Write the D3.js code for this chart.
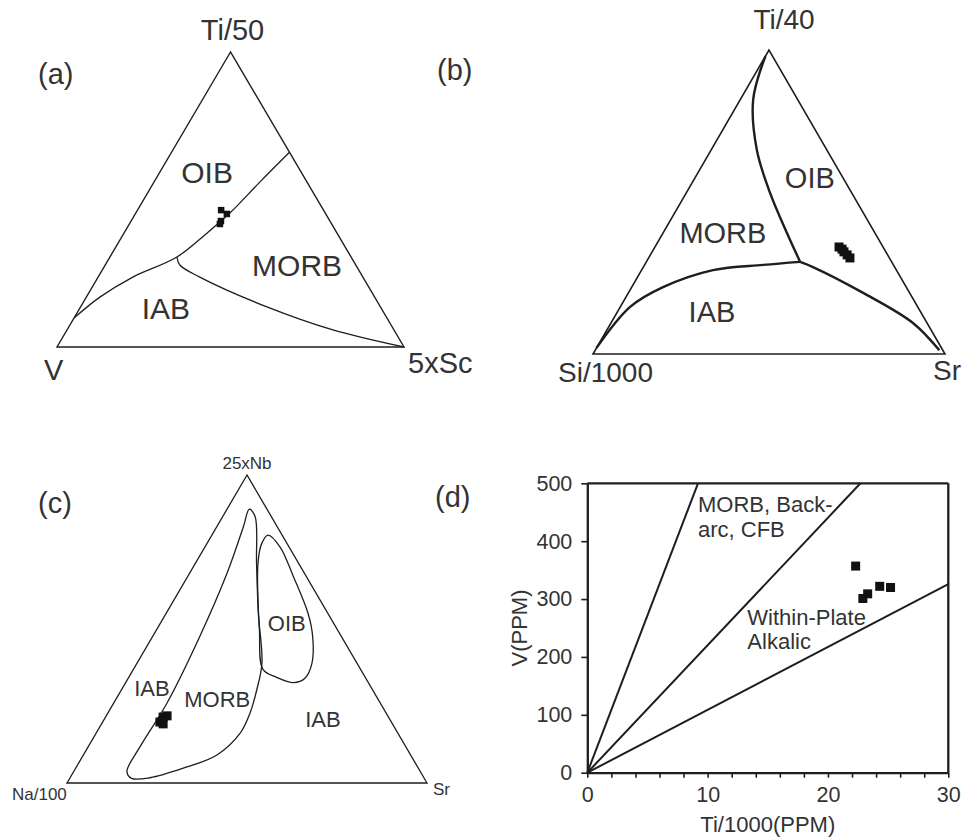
<!DOCTYPE html>
<html><head><meta charset="utf-8">
<script src="https://cdn.jsdelivr.net/npm/d3@7"></script>
<style>
body{margin:0;background:#fff}
svg{display:block}
text{font-family:"Liberation Sans",Arial,Helvetica,sans-serif;fill:#333}
</style>
</head><body>
<svg id="chart" width="966" height="839"></svg>
<script>
// ================= DATA =================
// Ternary points are [top fraction, right fraction] (left = 1 - top - right)

// Panel (a): Ti/50 (top) – V (left) – 5xSc (right)
const aCorners = ["Ti/50", "V", "5xSc"];
const aBoundaryOIB = [[0.66,0.34],[0.559,0.305],[0.454,0.271],[0.386,0.239],[0.305,0.193],[0.237,0.100],[0.169,0.039],[0.098,0.0]];
const aBoundaryIAB = [[0.305,0.193],[0.278,0.215],[0.237,0.293],[0.136,0.537],[0.058,0.766],[0.0,1.0]];
const aSamples = [[0.464,0.241],[0.451,0.264],[0.427,0.259],[0.417,0.261]];
const aRegionNames = ["OIB","MORB","IAB"];
const aRegionAt = [[0.593,0.136],[0.278,0.553],[0.132,0.248]];

// Panel (b): Ti/40 (top) – Si/1000 (left) – Sr (right)
const bCorners = ["Ti/40", "Si/1000", "Sr"];
const bBoundaryOIB = [[0.98,0.0],[0.836,0.037],[0.671,0.130],[0.530,0.238],[0.398,0.352],[0.303,0.437]];
const bBoundaryMORB = [[0.303,0.437],[0.293,0.337],[0.276,0.203],[0.220,0.089],[0.155,0.028],[0.02,0.0]];
const bBoundaryIAB = [[0.303,0.437],[0.286,0.482],[0.201,0.667],[0.102,0.858],[0.012,0.978]];
const bSamples = [[0.352,0.523],[0.345,0.535],[0.336,0.545],[0.326,0.559],[0.316,0.572]];
const bRegionNames = ["OIB","MORB","IAB"];
const bRegionAt = [[0.582,0.325],[0.398,0.170],[0.138,0.269]];

// Panel (c): 25xNb (top) – Na/100 (left) – Sr (right)
const cCorners = ["25xNb", "Na/100", "Sr"];
const cFieldMORB = [[0.889,0.062],[0.865,0.090],[0.713,0.170],[0.551,0.256],[0.389,0.347],[0.302,0.376],[0.226,0.395],[0.161,0.400],[0.091,0.371],[0.048,0.299],[0.017,0.222],[0.015,0.172],[0.037,0.148],[0.118,0.144],[0.259,0.148],[0.475,0.131],[0.681,0.104],[0.832,0.074]];
const cFieldOIB = [[0.805,0.156],[0.767,0.208],[0.670,0.294],[0.551,0.394],[0.475,0.445],[0.389,0.486],[0.340,0.491],[0.326,0.466],[0.343,0.411],[0.369,0.360],[0.497,0.286],[0.713,0.174],[0.778,0.152]];
const cSamples = [[0.214,0.160],[0.218,0.169],[0.198,0.159],[0.192,0.171]];
const cRegionNames = ["OIB","MORB","IAB","IAB"];
const cRegionAt = [[0.519,0.351],[0.273,0.281],[0.308,0.082],[0.208,0.607]];

// Panel (d): Ti/1000 (ppm) vs V (ppm)
const dXDomain = [0, 30];
const dYDomain = [0, 500];
const dXTicks = [0,2,4,6,8,10,12,14,16,18,20,22,24,26,28,30];
const dXTickLabels = [0,10,20,30];
const dYTicks = [0,100,200,300,400,500];
const dLineEnds = [[9.2,500],[22.7,500],[30,326]];
const dSamples = [[22.3,357],[22.9,301],[23.3,309],[24.3,322],[25.2,320]];
const dXTitle = "Ti/1000(PPM)";
const dYTitle = "V(PPM)";
const dLabelMORB = ["MORB, Back-","arc, CFB"];
const dLabelWPA = ["Within-Plate","Alkalic"];
const dLabelMORBAt = [[9.2,451],[9.2,408]];
const dLabelWPAAt = [[13.3,256],[13.3,213]];

const panelLetters = ["(a)","(b)","(c)","(d)"];

// ================= DRAW =================
const svg = d3.select("#chart");
const INK = "#1e1e1e";

function ternaryProj(f) {
  const sx = d3.scaleLinear().domain([0,1]).range([f.x0, f.x1]);
  const sy = d3.scaleLinear().domain([0,1]).range([f.yb, f.yt]);
  return d => [sx(d[1] + d[0]/2), sy(d[0])];
}

function drawTernary(g, f, opts) {
  const p = ternaryProj(f);
  const line = d3.line().x(d => p(d)[0]).y(d => p(d)[1]);
  g.append("path")
    .attr("d", line([[1,0],[0,0],[0,1]]) + "Z")
    .attr("fill","none").attr("stroke",INK).attr("stroke-width",opts.frameW)
    .attr("stroke-linejoin","miter");
  opts.curves.forEach(c => {
    g.append("path")
      .attr("d", d3.line().x(d=>p(d)[0]).y(d=>p(d)[1]).curve(d3.curveCatmullRom.alpha(0.5))(c))
      .attr("fill","none").attr("stroke",INK).attr("stroke-width",opts.lineW);
  });
  (opts.closed||[]).forEach(c => {
    g.append("path")
      .attr("d", d3.line().x(d=>p(d)[0]).y(d=>p(d)[1]).curve(d3.curveCatmullRomClosed.alpha(0.5))(c))
      .attr("fill","none").attr("stroke",INK).attr("stroke-width",opts.lineW);
  });
  g.selectAll("rect.s").data(opts.samples).join("rect")
    .attr("x", d => p(d)[0]-opts.ms/2).attr("y", d => p(d)[1]-opts.ms/2)
    .attr("width", opts.ms).attr("height", opts.ms).attr("fill","#111");
  opts.regions.forEach((name,i) => {
    const q = p(opts.regionAt[i]);
    g.append("text").attr("x",q[0]).attr("y",q[1]).attr("dy","0.36em")
      .attr("text-anchor","middle").attr("font-size",opts.regionFont).text(name);
  });
  const apex = p([1,0]), left = p([0,0]), right = p([0,1]);
  const cl = opts.cornerOff;
  g.append("text").attr("x",apex[0]+cl.top[0]).attr("y",apex[1]+cl.top[1])
    .attr("text-anchor","middle").attr("font-size",opts.cornerFont).text(opts.corners[0]);
  g.append("text").attr("x",left[0]+cl.left[0]).attr("y",left[1]+cl.left[1])
    .attr("text-anchor","start").attr("font-size",opts.cornerFont).text(opts.corners[1]);
  g.append("text").attr("x",right[0]+cl.right[0]).attr("y",right[1]+cl.right[1])
    .attr("text-anchor","start").attr("font-size",opts.cornerFont).text(opts.corners[2]);
}

// Panel (a)
drawTernary(svg.append("g"), {x0:57, x1:404, yb:347, yt:52}, {
  frameW:1.4, lineW:1.3, ms:6.5,
  curves:[aBoundaryOIB, aBoundaryIAB], samples:aSamples,
  regions:aRegionNames, regionAt:aRegionAt, regionFont:30,
  corners:aCorners, cornerFont:29,
  cornerOff:{top:[2,-12], left:[-13,33], right:[4,26]}
});

// Panel (b)
drawTernary(svg.append("g"), {x0:593, x1:945, yb:354, yt:50}, {
  frameW:1.6, lineW:2.4, ms:9,
  curves:[bBoundaryOIB, bBoundaryMORB, bBoundaryIAB], samples:bSamples,
  regions:bRegionNames, regionAt:bRegionAt, regionFont:29,
  corners:bCorners, cornerFont:28,
  cornerOff:{top:[15,-21], left:[-35,28], right:[-12,26]}
});

// Panel (c)
drawTernary(svg.append("g"), {x0:67, x1:427, yb:783, yt:475}, {
  frameW:1.3, lineW:1.3, ms:9,
  curves:[], closed:[cFieldMORB, cFieldOIB], samples:cSamples,
  regions:cRegionNames, regionAt:cRegionAt, regionFont:22,
  corners:cCorners, cornerFont:17,
  cornerOff:{top:[0,-6], left:[-55,17], right:[6,12]}
});

// Panel letters
const letterPos = [[38,84],[437,80],[38,513],[435,507]];
panelLetters.forEach((t,i) => {
  svg.append("text").attr("x",letterPos[i][0]).attr("y",letterPos[i][1])
    .attr("font-size",29).text(t);
});

// Panel (d)
const gd = svg.append("g");
const xd = d3.scaleLinear().domain(dXDomain).range([587.3, 948.3]);
const yd = d3.scaleLinear().domain(dYDomain).range([772.7, 483.3]);

const xAxis = d3.axisBottom(xd).tickValues(dXTicks).tickSize(5).tickSizeOuter(0)
  .tickFormat(d => dXTickLabels.includes(d) ? d : "");
const yAxis = d3.axisLeft(yd).tickValues(dYTicks).tickSize(6).tickSizeOuter(0).tickPadding(9);

const gx = gd.append("g").attr("transform",`translate(0,${yd(0)})`).call(xAxis);
const gy = gd.append("g").attr("transform",`translate(${xd(0)},0)`).call(yAxis);
[gx, gy].forEach(a => {
  a.select(".domain").attr("stroke",INK).attr("stroke-width",2.3);
  a.selectAll(".tick line").attr("stroke",INK).attr("stroke-width",1.6);
  a.selectAll(".tick text").attr("font-family","Liberation Sans, Arial, sans-serif")
    .attr("font-size",21.5).attr("fill","#333");
});
gx.selectAll(".tick text").attr("dy","0.95em").attr("y",9);

gd.append("line").attr("x1",xd(0)).attr("x2",xd(30)).attr("y1",yd(500)).attr("y2",yd(500))
  .attr("stroke",INK).attr("stroke-width",2.3);
gd.append("line").attr("x1",xd(30)).attr("x2",xd(30)).attr("y1",yd(0)).attr("y2",yd(500))
  .attr("stroke",INK).attr("stroke-width",2.3);

dLineEnds.forEach(e => {
  gd.append("line").attr("x1",xd(0)).attr("y1",yd(0)).attr("x2",xd(e[0])).attr("y2",yd(e[1]))
    .attr("stroke",INK).attr("stroke-width",2);
});

gd.selectAll("rect.s").data(dSamples).join("rect")
  .attr("x", d => xd(d[0])-4.5).attr("y", d => yd(d[1])-4.5)
  .attr("width",9).attr("height",9).attr("fill","#111");

dLabelMORB.forEach((t,i) => gd.append("text").attr("x",xd(dLabelMORBAt[i][0])).attr("y",yd(dLabelMORBAt[i][1]))
  .attr("font-size",22).text(t));
dLabelWPA.forEach((t,i) => gd.append("text").attr("x",xd(dLabelWPAAt[i][0])).attr("y",yd(dLabelWPAAt[i][1]))
  .attr("font-size",22).text(t));

gd.append("text").attr("x",(xd(0)+xd(30))/2).attr("y",832).attr("text-anchor","middle")
  .attr("font-size",22).text(dXTitle);
gd.append("text").attr("transform",`translate(527,${(yd(0)+yd(500))/2}) rotate(-90)`)
  .attr("text-anchor","middle").attr("font-size",22).text(dYTitle);
</script>
</body></html>
